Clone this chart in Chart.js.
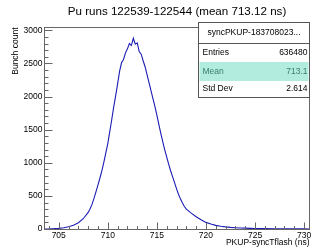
<!DOCTYPE html>
<html>
<head>
<meta charset="utf-8">
<script src="https://cdn.jsdelivr.net/npm/chart.js@4"></script>
<style>
  body { margin: 0; background: #fff; }
  canvas { display: block; }
</style>
</head>
<body>
<canvas id="histo" width="313" height="247"></canvas>
<script>
// histogram (bin centre in ns, bunch count)
const binCentres = [
  703.5, 704, 704.5, 705, 705.5, 706, 706.5, 707, 707.5,
  708.0, 708.2, 708.4, 708.6, 708.8, 709.0, 709.2, 709.4, 709.6, 709.8,
  710.0, 710.2, 710.4, 710.6, 710.8, 711.0, 711.2, 711.4, 711.6, 711.8,
  712.0, 712.2, 712.4, 712.6, 712.8, 713.0, 713.2, 713.4, 713.6, 713.8,
  714.0, 714.2, 714.4, 714.6, 714.8, 715.0, 715.2, 715.4, 715.6, 715.8,
  716.0, 716.2, 716.4, 716.6, 716.8, 717.0, 717.2, 717.4, 717.6, 717.8,
  718.0, 718.5, 719, 719.5, 720, 720.5, 721, 721.5, 722, 722.5,
  723, 723.5, 724, 724.5, 725, 726, 727, 728, 729, 730, 730.5
];
const bunchCounts = [
  1, 2, 5, 10, 20, 35, 58, 95, 155,
  250, 305, 375, 465, 565, 665, 770, 880, 1010, 1150,
  1290, 1470, 1650, 1840, 2010, 2190, 2380, 2510, 2560, 2660,
  2720, 2800, 2770, 2880, 2790, 2810, 2680, 2640, 2540, 2450,
  2330, 2210, 2090, 1970, 1850, 1720, 1580, 1445, 1320, 1195,
  1090, 980, 880, 790, 700, 610, 525, 455, 395, 340,
  300, 240, 185, 140, 100, 75, 55, 42, 32, 25,
  20, 16, 13, 10, 8, 6, 4, 3, 2, 2, 1
];
const xTicks = [705, 710, 715, 720, 725, 730];
const yTicks = [0, 500, 1000, 1500, 2000, 2500, 3000];
const statNames = ['Entries', 'Mean', 'Std Dev'];
const statValues = ['636480', '713.1', '2.614'];

const titleText = 'Pu runs 122539-122544 (mean 713.12 ns)';
const histName = 'syncPKUP-183708023...';
const FONT = '"Liberation Sans", Arial, Helvetica, sans-serif';

// ROOT-like frame, ticks, labels and stats box
const rootStyle = {
  id: 'rootStyle',
  afterDatasetsDraw(chart) {
    const ctx = chart.ctx;
    const a = chart.chartArea;
    const xs = chart.scales.x, ys = chart.scales.y;
    const L = Math.round(a.left) + 0.5, R = Math.round(a.right) + 0.5;
    const T = Math.round(a.top) + 0.5, B = Math.round(a.bottom) + 0.5;
    ctx.save();
    ctx.strokeStyle = '#666';
    ctx.lineWidth = 1;
    ctx.strokeRect(L, T, R - L, B - T);

    // y ticks
    ctx.beginPath();
    for (let v = 0; v <= ys.max; v += 100) {
      const py = Math.round(ys.getPixelForValue(v)) + 0.5;
      const len = v % 500 === 0 ? 8 : 4;
      ctx.moveTo(L, py); ctx.lineTo(L + len, py);
    }
    // x ticks
    for (let t = Math.ceil(xs.min); t <= xs.max; t += 1) {
      const px = Math.round(xs.getPixelForValue(t)) + 0.5;
      const len = t % 5 === 0 ? 7 : 3.5;
      ctx.moveTo(px, B); ctx.lineTo(px, B - len);
    }
    ctx.stroke();

    ctx.fillStyle = '#000';
    ctx.font = '8.5px ' + FONT;
    ctx.textAlign = 'right';
    ctx.textBaseline = 'middle';
    yTicks.forEach(v => ctx.fillText(String(v), L - 2, ys.getPixelForValue(v)));
    ctx.textAlign = 'center';
    ctx.textBaseline = 'top';
    xTicks.forEach(t => ctx.fillText(String(t), xs.getPixelForValue(t), B + 1.5));

    // axis titles
    ctx.textAlign = 'right';
    ctx.textBaseline = 'middle';
    ctx.fillText('PKUP-syncTflash (ns)', R, 242.5);
    ctx.save();
    ctx.translate(16, T);
    ctx.rotate(-Math.PI / 2);
    ctx.fillText('Bunch count', 0, 0);
    ctx.restore();

    // title
    ctx.font = '11.6px ' + FONT;
    ctx.textAlign = 'center';
    ctx.fillText(titleText, 177, 12);

    // stats box
    const bx = 198.5, by = 22.5, bw = 111, bh = 75;
    ctx.fillStyle = '#fff';
    ctx.fillRect(bx, by, bw, bh);
    ctx.fillStyle = '#b2ecdf';
    ctx.fillRect(bx + 1, 62, bw - 2, 19);
    ctx.strokeStyle = '#555';
    ctx.strokeRect(bx, by, bw, bh);
    ctx.beginPath();
    ctx.moveTo(bx, 43.5); ctx.lineTo(bx + bw, 43.5);
    ctx.stroke();
    ctx.font = '8.5px ' + FONT;
    ctx.fillStyle = '#000';
    ctx.textAlign = 'center';
    ctx.fillText(histName, bx + bw / 2, 33);
    const rowY = [53, 71.5, 89];
    statNames.forEach((n, i) => {
      ctx.fillStyle = i === 1 ? '#3a7d6f' : '#000';
      ctx.textAlign = 'left';
      ctx.fillText(n, bx + 4, rowY[i]);
      ctx.textAlign = 'right';
      ctx.fillText(statValues[i], bx + bw - 2, rowY[i]);
    });
    ctx.restore();
  }
};

const points = binCentres.map((x, i) => ({ x: x, y: bunchCounts[i] }));

new Chart(document.getElementById('histo'), {
  type: 'line',
  data: {
    datasets: [{
      data: points,
      borderColor: 'rgb(28,28,180)',
      borderWidth: 1.1,
      pointRadius: 0,
      tension: 0,
      fill: false
    }]
  },
  options: {
    responsive: false,
    animation: false,
    devicePixelRatio: 1,
    layout: { padding: { left: 44, top: 27, right: 4, bottom: 18 } },
    plugins: { legend: { display: false }, tooltip: { enabled: false } },
    scales: {
      x: { type: 'linear', min: 703.5, max: 730.5, display: false },
      y: { min: 0, max: 3050, display: false }
    }
  },
  plugins: [rootStyle]
});
</script>
</body>
</html>
